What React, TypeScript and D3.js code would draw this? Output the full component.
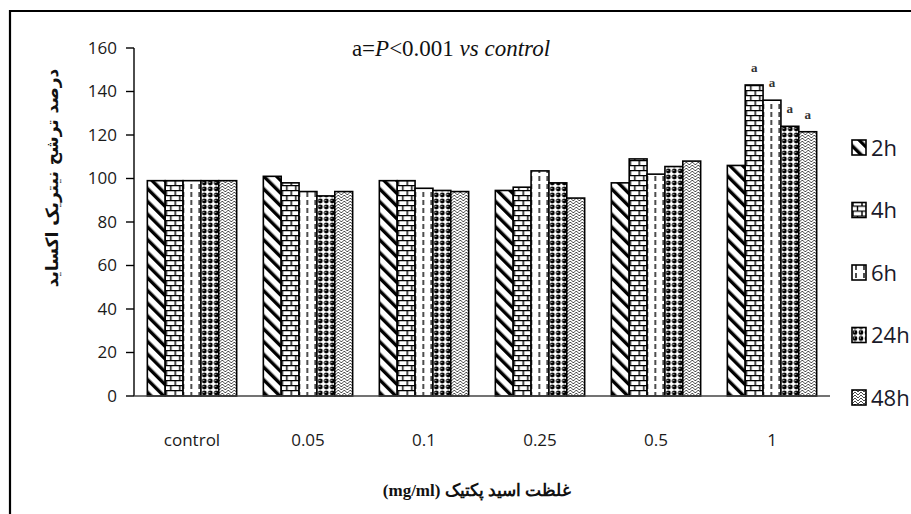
import React from 'react'
import { scaleBand, scaleLinear } from 'd3'

// data
const categories = ['control', '0.05', '0.1', '0.25', '0.5', '1']
const seriesNames = ['2h', '4h', '6h', '24h', '48h']
const values2h = [99, 101, 99, 94.5, 98, 106]
const values4h = [99, 98, 99, 96, 109, 143]
const values6h = [99, 94, 95.5, 103.5, 102, 136]
const values24h = [99, 92, 94.5, 98, 105.5, 124]
const values48h = [99, 94, 94, 91, 108, 121.5]
const yTicks = [0, 20, 40, 60, 80, 100, 120, 140, 160]
// bars marked "a" (P<0.001 vs control): [category, series]
const sigMarks: Array<[string, string]> = [['1', '4h'], ['1', '6h'], ['1', '24h'], ['1', '48h']]

const allValues = [values2h, values4h, values6h, values24h, values48h]
const patternIds = ['p2h', 'p4h', 'p6h', 'p24h', 'p48h']

const App = () => {
    const width = 911
    const height = 514
    const margin = { top: 48, right: 81, bottom: 118, left: 134 }

    const x0 = scaleBand()
        .domain(categories)
        .range([margin.left, width - margin.right])
        .paddingInner(0.23)
        .paddingOuter(0.115)

    const x1 = scaleBand()
        .domain(seriesNames)
        .range([0, x0.bandwidth()])

    const y = scaleLinear()
        .domain([0, 160])
        .range([height - margin.bottom, margin.top])

    const sans = "'Open Sans', 'Noto Sans', sans-serif"
    const serif = "'Liberation Serif', 'DejaVu Serif', serif"

    return (
        <div style={{ position: 'absolute', left: 0, top: 0 }}>
            <svg width={width} height={height} style={{ display: 'block', background: '#fff' }}>
                <defs>
                    <pattern id="p2h" width={9} height={9} patternUnits="userSpaceOnUse" patternTransform="rotate(-45)">
                        <rect width={9} height={9} fill="#fff" />
                        <rect x={0} width={3.4} height={9} fill="#000" />
                    </pattern>
                    <pattern id="p4h" width={9} height={10} patternUnits="userSpaceOnUse">
                        <rect width={9} height={10} fill="#fff" />
                        <path d="M0,0.6H9M0,5.6H9M1,0V5.6M5.5,5.6V10" stroke="#000" strokeWidth={1.4} fill="none" />
                    </pattern>
                    <pattern id="p6h" width={8} height={8} patternUnits="userSpaceOnUse">
                        <rect width={8} height={8} fill="#fff" />
                        <path d="M4,0V5" stroke="#000" strokeWidth={1.4} />
                    </pattern>
                    <pattern id="p24h" width={6} height={6} patternUnits="userSpaceOnUse">
                        <rect width={6} height={6} fill="#fff" />
                        <circle cx={3} cy={3} r={2.4} fill="#000" />
                        <circle cx={2.3} cy={2.3} r={0.6} fill="#fff" />
                    </pattern>
                    <pattern id="p48h" width={6} height={6} patternUnits="userSpaceOnUse">
                        <rect width={6} height={6} fill="#fff" />
                        <path d="M0,3L3,0L6,3M0,6L3,3L6,6" stroke="#333" strokeWidth={0.9} fill="none" />
                    </pattern>
                </defs>

                {/* frame */}
                <path d={`M10,${height}V11H${width}`} stroke="#000" strokeWidth={2.2} fill="none" />

                {/* title */}
                <text x={451} y={56} textAnchor="middle" fontFamily={serif} fontSize={23} fill="#111">
                    a=<tspan fontStyle="italic">P</tspan>&lt;0.001 <tspan fontStyle="italic">vs control</tspan>
                </text>

                {/* y axis */}
                <line x1={margin.left} x2={margin.left} y1={y(160)} y2={y(0)} stroke="#000" strokeWidth={1.4} />
                {yTicks.map(t => (
                    <g key={t} transform={`translate(${margin.left}, ${y(t)})`}>
                        <line x1={-8} x2={0} stroke="#000" strokeWidth={1.4} />
                        <text x={-17} dy="0.35em" textAnchor="end" fontFamily={sans} fontSize={17} fill="#1a1a1a">{t}</text>
                    </g>
                ))}

                {/* bars */}
                {categories.map((c, ci) => (
                    <g key={c} transform={`translate(${x0(c)}, 0)`}>
                        {seriesNames.map((s, si) => (
                            <rect
                                key={s}
                                x={x1(s)}
                                y={y(allValues[si][ci])}
                                width={x1.bandwidth()}
                                height={y(0) - y(allValues[si][ci])}
                                fill={`url(#${patternIds[si]})`}
                                stroke="#000"
                                strokeWidth={1.6}
                            />
                        ))}
                    </g>
                ))}

                {/* significance marks */}
                {sigMarks.map(([c, s]) => {
                    const si = seriesNames.indexOf(s)
                    const ci = categories.indexOf(c)
                    return (
                        <text key={c + s} x={(x0(c) || 0) + (x1(s) || 0) + x1.bandwidth() / 2} y={y(allValues[si][ci]) - 13}
                            textAnchor="middle" fontFamily={serif} fontWeight="bold" fontSize={13} fill="#333">a</text>
                    )
                })}

                {/* x axis */}
                <line x1={margin.left} x2={width - margin.right} y1={y(0)} y2={y(0)} stroke="#444" strokeWidth={1.6} />
                {categories.map(c => (
                    <text key={c} x={(x0(c) || 0) + x0.bandwidth() / 2} y={446} textAnchor="middle" fontFamily={sans} fontSize={17} fill="#1a1a1a">{c}</text>
                ))}

                {/* axis titles */}
                <text x={477} y={496} textAnchor="middle" direction="rtl" fontFamily={serif} fontWeight="bold" fontSize={17} fill="#111">
                    غلظت اسید پکتیک (mg/ml)
                </text>
                <text transform="translate(58, 178) rotate(-90)" textAnchor="middle" direction="rtl" fontFamily="'DejaVu Sans', sans-serif" fontWeight="bold" fontSize={17} fill="#111">
                    درصد ترشح نیتریک اکساید
                </text>

                {/* legend */}
                {seriesNames.map((s, si) => (
                    <g key={s} transform={`translate(852, ${148 + si * 62.5})`}>
                        <rect x={0} y={-8} width={14} height={15} fill={`url(#${patternIds[si]})`} stroke="#000" strokeWidth={1.6} />
                        <text x={19} dy="0.36em" fontFamily={sans} fontSize={22} fill="#1a1a2a">{s}</text>
                    </g>
                ))}
            </svg>
        </div>
    )
}

export default App
